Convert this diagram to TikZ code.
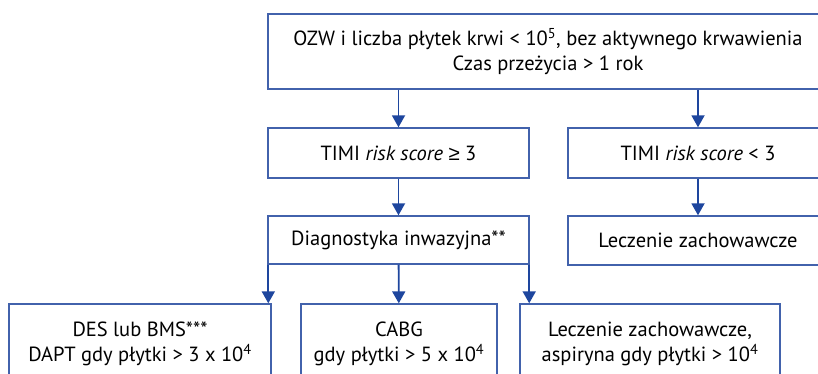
\documentclass[tikz,border=0pt]{standalone}
\usepackage{fontspec}
\setmainfont{PT Sans}
\newfontfamily\symfont{Liberation Sans}
\usetikzlibrary{arrows.meta}
\definecolor{boxblue}{RGB}{66,98,172}
\definecolor{arrblue}{RGB}{30,70,158}

\begin{document}
\begin{tikzpicture}[x=1pt,y=-1pt,
	box/.style={draw=boxblue, line width=1.4pt, align=center, inner sep=0pt, font=\fontsize{20.5}{25}\selectfont},
	arr/.style={draw=arrblue, line width=1.8pt, -{Triangle[width=13pt,length=12pt]}}]
	\clip (0,0) rectangle (818,373);
	\node[box, minimum width=560, minimum height=75] (top) at (548,51.5) {OZW i liczba płytek krwi < 10\textsuperscript{5}, bez aktywnego krwawienia\\Czas przeżycia > 1 rok};
	\node[box, minimum width=261, minimum height=50] (timiA) at (398.5,153) {TIMI \textit{risk score} {\symfont ≥} 3};
	\node[box, minimum width=260, minimum height=50] (timiB) at (698,153) {TIMI \textit{risk score} < 3};
	\node[box, minimum width=261, minimum height=48] (diag) at (398.5,240) {Diagnostyka inwazyjna**};
	\node[box, minimum width=260, minimum height=49] (lecz) at (698,240.5) {Leczenie zachowawcze};
	\node[box, minimum width=262, minimum height=80] (des) at (140,344) {DES lub BMS***\\DAPT gdy płytki > 3 x 10\textsuperscript{4}};
	\node[box, minimum width=196, minimum height=80] (cabg) at (399,344) {CABG\\gdy płytki > 5 x 10\textsuperscript{4}};
	\node[box, minimum width=260, minimum height=80] (asp) at (650,344) {Leczenie zachowawcze,\\aspiryna gdy płytki > 10\textsuperscript{4}};
	
	\draw[arr] (timiA.north |- top.south)--(timiA.north);
	\draw[arr] (timiB.north |- top.south)--(timiB.north);
	\draw[arr] (timiA)--(diag);
	\draw[arr] (timiB)--(lecz);
	\draw[arr] ([xshift=1pt]diag.south west)--([xshift=1pt]diag.south west |- des.north);
	\draw[arr] (diag)--(cabg);
	\draw[arr] ([xshift=-0.5pt]diag.south east)--([xshift=-0.5pt]diag.south east |- asp.north);
\end{tikzpicture}
\end{document}
